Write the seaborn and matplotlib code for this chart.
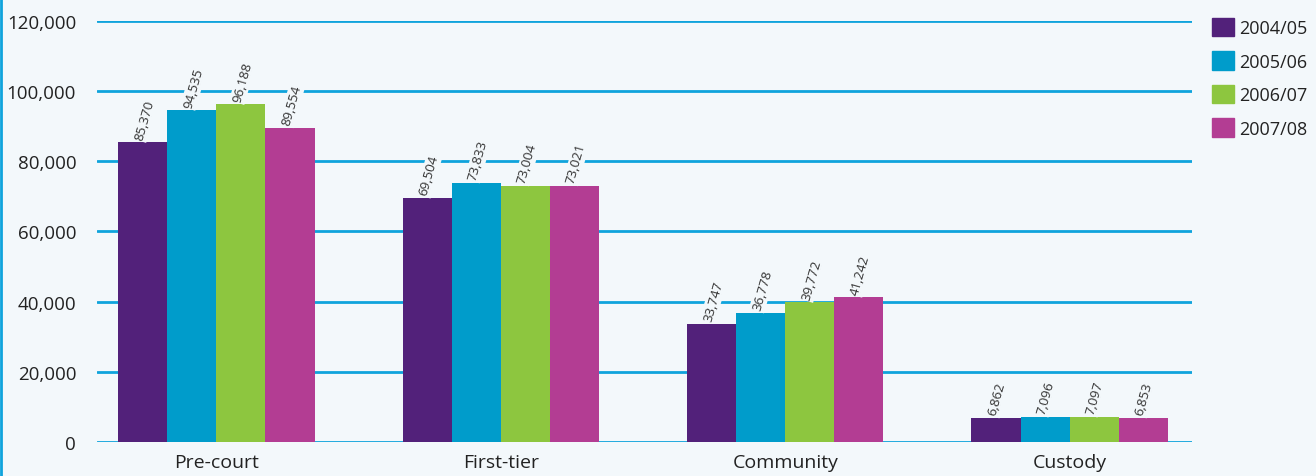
import pandas as pd
import matplotlib
matplotlib.use("Agg")
import matplotlib.pyplot as plt
import matplotlib.patches as mpatches
import matplotlib.lines as mlines
import seaborn as sns

# ---- data ----
categories = ["Pre-court", "First-tier", "Community", "Custody"]
years = ["2004/05", "2005/06", "2006/07", "2007/08"]
v_2004 = [85370, 69504, 33747, 6862]
v_2005 = [94535, 73833, 36778, 7096]
v_2006 = [96188, 73004, 39772, 7097]
v_2007 = [89554, 73021, 41242, 6853]
y_ticks = [0, 20000, 40000, 60000, 80000, 100000, 120000]

colors = ["#52217A", "#009CCB", "#8DC63F", "#B33D93"]
bg = "#F3F8FB"
grid_col = "#0FA3DC"

rows = []
for yr, vals in zip(years, [v_2004, v_2005, v_2006, v_2007]):
    for cat, v in zip(categories, vals):
        rows.append({"category": cat, "year": yr, "value": v})
df = pd.DataFrame(rows)

sns.set_style("white")
plt.rcParams["font.family"] = ["Open Sans", "DejaVu Sans"]

fig = plt.figure(figsize=(13.16, 4.77), dpi=100, facecolor=bg)
ax = fig.add_axes([0.0737, 0.0713, 0.832, 0.8827])
ax.set_facecolor(bg)

sns.barplot(data=df, x="category", y="value", hue="year", order=categories,
            hue_order=years, palette=colors, saturation=1, width=0.69,
            gap=0, linewidth=0, ax=ax, legend=False)

ax.set_xlim(-0.42, 3.43)
ax.set_ylim(0, 120000)
ax.set_yticks(y_ticks)
ax.set_yticklabels([f"{t:,}" for t in y_ticks], fontsize=13.5, color="#222222")
ax.tick_params(axis="x", length=0, pad=8, labelsize=14, labelcolor="#222222")
ax.tick_params(axis="y", length=0, pad=15)
ax.set_xlabel("")
ax.set_ylabel("")
for s in ax.spines.values():
    s.set_visible(False)

ax.set_axisbelow(True)
ax.yaxis.grid(True, color=grid_col, linewidth=2)

# value labels (rotated, with background that cuts the gridline)
for container in ax.containers:
    for bar in container:
        h = bar.get_height()
        ax.text(bar.get_x() + bar.get_width() * 0.42, h + 900, f"{h:,.0f}",
                rotation=74, rotation_mode="anchor", ha="left", va="center",
                fontsize=9.5, color="#333333",
                bbox=dict(facecolor=bg, edgecolor="none", pad=1.0))

handles = [mpatches.Patch(color=c, label=y) for c, y in zip(colors, years)]
leg = ax.legend(handles=handles, loc="upper left", bbox_to_anchor=(1.018, 1.008),
                frameon=False, fontsize=13, handlelength=1.22, handleheight=1.22,
                handletextpad=0.33, labelspacing=0.78, borderaxespad=0,
                borderpad=0)
for t in leg.get_texts():
    t.set_color("#222222")

# blue border on the left edge of the figure
fig.add_artist(mlines.Line2D([0.001, 0.001], [0, 1], color=grid_col, linewidth=2,
                             transform=fig.transFigure))

fig.savefig("out.png", dpi=100, facecolor=bg)
